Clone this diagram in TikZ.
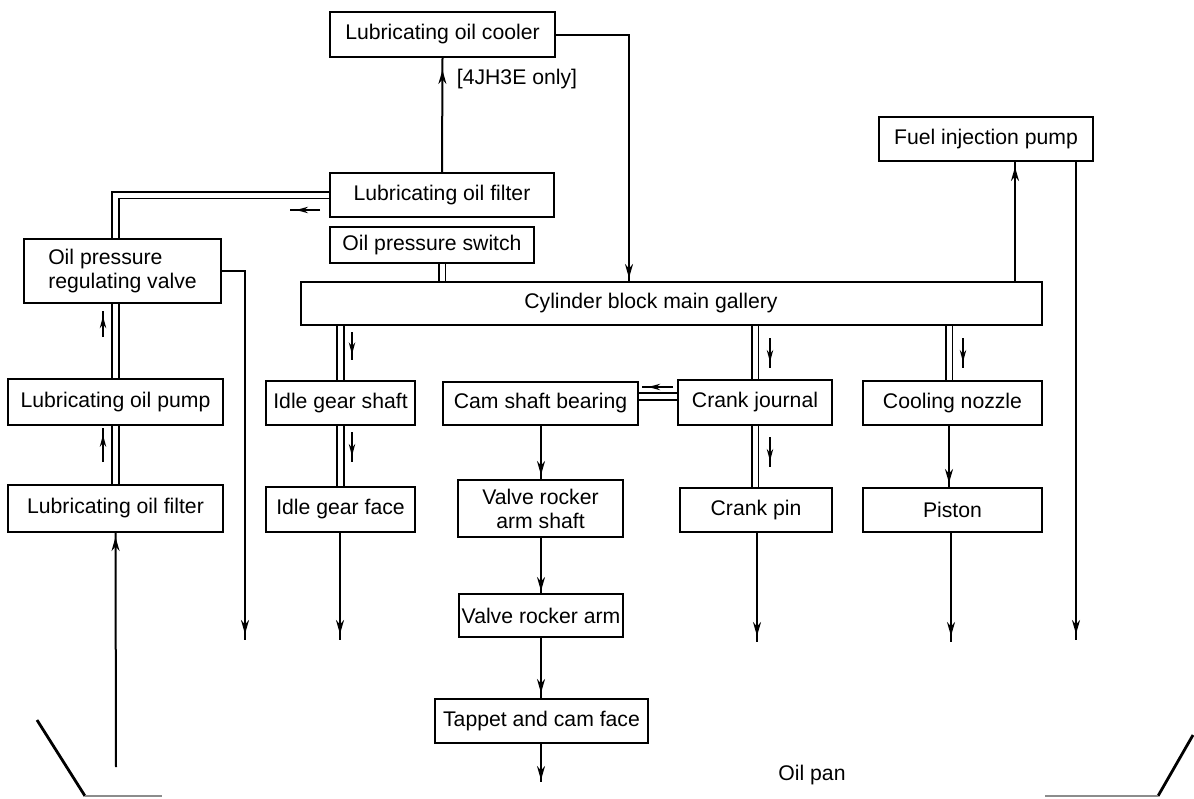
\documentclass[tikz,border=0pt]{standalone}
\usepackage{fontspec}
\setmainfont{Liberation Sans}
\usetikzlibrary{arrows.meta,decorations.markings,calc,backgrounds}
\begin{document}
\begin{tikzpicture}[x=0.5pt,y=-0.5pt,
  font=\fontsize{10.6}{12}\selectfont,
  bx/.style 2 args={draw, line width=1pt, inner sep=0pt,
    minimum width=#1*0.5pt, minimum height=#2*0.5pt},
  pipe/.style={draw, line width=0.9pt, double, double distance=2.5pt},
  flow/.style={draw, line width=1pt},
  arrat/.style={postaction={decorate}, decoration={markings,
    mark=at position #1 with {\arrow{Stealth[length=7pt,width=4pt]}}}},
  sidearr/.style={draw, line width=0.8pt, postaction={decorate},
    decoration={markings, mark=at position 0.8 with {\arrow{Stealth[length=6pt,width=3.2pt]}}}},
  panline/.style={draw, line width=1.4pt},
  panfaint/.style={draw, line width=0.6pt, black!45}]
\useasboundingbox (0,0) rectangle (1194,798);

% boxes
\node[bx={225}{45}] (cooler) at (442.5,34.5) {Lubricating oil cooler};
\node[bx={224}{44}] (filtT) at (442,195) {Lubricating oil filter};
\node[bx={204}{36}] (switch) at (432,245) {Oil pressure switch};
\node[bx={197}{64}, align=left] (valve) at (122.5,271) {Oil pressure\\regulating valve};
\node[bx={215}{46}] (pump) at (115.5,402) {Lubricating oil pump};
\node[bx={215}{47}] (filtL) at (115.5,508.5) {Lubricating oil filter};
\node[bx={741}{43}] (gallery) at (671.5,303.5) {};
\node (galtext) at (651,303.5) {Cylinder block main gallery};
\node[bx={149}{44}] (idleS) at (340.5,403) {Idle gear shaft};
\node[bx={149}{45}] (idleF) at (340.5,509.5) {Idle gear face};
\node[bx={195}{43}] (cam) at (540.5,403.5) {Cam shaft bearing};
\node[bx={154}{45}] (journal) at (755,402.5) {Crank journal};
\node[bx={179}{44}] (nozzle) at (952.5,403) {Cooling nozzle};
\node[bx={152}{44}] (pin) at (756,510) {Crank pin};
\node[bx={179}{44}] (piston) at (952.5,510) {Piston};
\node[bx={165}{57}, align=center] (vras) at (540.5,508.5) {Valve rocker\\arm shaft};
\node[bx={164}{43}] (vra) at (541,615.5) {Valve rocker arm};
\node[bx={213}{44}] (tappet) at (541.5,721) {Tappet and cam face};
\node[bx={214}{44}] (fip) at (986,139) {Fuel injection pump};
\node (only) at (517,79) {[4JH3E only]};
\node (pan) at (812,775) {Oil pan};

% helper coordinates
\coordinate (cgx) at (629,0);
\coordinate (nx) at (949,0);
\coordinate (fx) at (1015,0);
\coordinate (panin) at (116,767);
\coordinate (vd) at (245,640);
\coordinate (idd) at (340,640);
\coordinate (td) at (541,782);
\coordinate (pd) at (757,642);
\coordinate (sd) at (951,642);
\coordinate (fd) at (1076,640);

\begin{scope}[on background layer]
  % double pipes
  \draw[pipe] (switch.south -| filtT.north) -- (gallery.north -| filtT.north);
  \draw[pipe] (filtT.west) -| (valve.north -| pump.north);
  \draw[pipe] (valve.south -| pump.north) -- (pump.north);
  \draw[pipe] (pump.south) -- (filtL.north);
  \draw[pipe] (gallery.south -| idleS.north) -- (idleS.north);
  \draw[pipe] (idleS.south) -- (idleF.north);
  \draw[pipe] ([yshift=3.5pt]cam.east) -- ([yshift=3.5pt]cam.east -| journal.west);
  \draw[pipe] (gallery.south -| journal.north) -- (journal.north);
  \draw[pipe] (journal.south) -- (journal.south |- pin.north);
  \draw[pipe] (gallery.south -| nx) -- (nozzle.north -| nx);
\end{scope}

% single flow lines
\draw[flow, arrat=-6pt] (filtT.north) -- (cooler.south);
\draw[flow, arrat=-1.5pt] (cooler.east) -- (cooler.east -| cgx) -- (gallery.north -| cgx);
\draw[flow, arrat=-2pt] (panin) -- (filtL.south);
\draw[flow, arrat=-3pt] (valve.east) -- (valve.east -| vd) -- (vd);
\draw[flow, arrat=-3pt] (idleF.south -| idd) -- (idd);
\draw[flow, arrat=-2pt] (cam.south -| td) -- (vras.north -| td);
\draw[flow, arrat=-1pt] (vras.south -| td) -- (vra.north -| td);
\draw[flow, arrat=-2.5pt] (vra.south -| td) -- (tappet.north -| td);
\draw[flow, arrat=-1pt] (tappet.south -| td) -- (td);
\draw[flow, arrat=-3pt] (pin.south -| pd) -- (pd);
\draw[flow, arrat=-2pt] (nozzle.south -| nx) -- (piston.north -| nx);
\draw[flow, arrat=-3pt] (piston.south -| sd) -- (sd);
\draw[flow, arrat=-2.5pt] (gallery.north -| fx) -- (fip.south -| fx);
\draw[flow, arrat=-3pt] (fip.south -| fd) -- (fd);

% small direction arrows beside the double pipes
\coordinate (s1a) at (103,337); \coordinate (s1b) at (103,311);
\coordinate (s2a) at (103,462); \coordinate (s2b) at (103,428);
\coordinate (s3a) at (320,210); \coordinate (s3b) at (290,210);
\coordinate (s4a) at (352,332); \coordinate (s4b) at (352,360);
\coordinate (s5a) at (352,432); \coordinate (s5b) at (352,462);
\coordinate (s6a) at (673,387); \coordinate (s6b) at (642,387);
\coordinate (s7a) at (770,338); \coordinate (s7b) at (770,368);
\coordinate (s8a) at (770,437); \coordinate (s8b) at (770,467);
\coordinate (s9a) at (963,338); \coordinate (s9b) at (963,368);
\foreach \i in {1,...,9} { \draw[sidearr] (s\i a) -- (s\i b); }

% oil pan outline
\draw[panline] (37,720) -- (85,796);
\draw[panfaint] (85,796) -- (162,796);
\draw[panline] (1193,735) -- (1158,796);
\draw[panfaint] (1158,796) -- (1045,796);
\end{tikzpicture}
\end{document}
